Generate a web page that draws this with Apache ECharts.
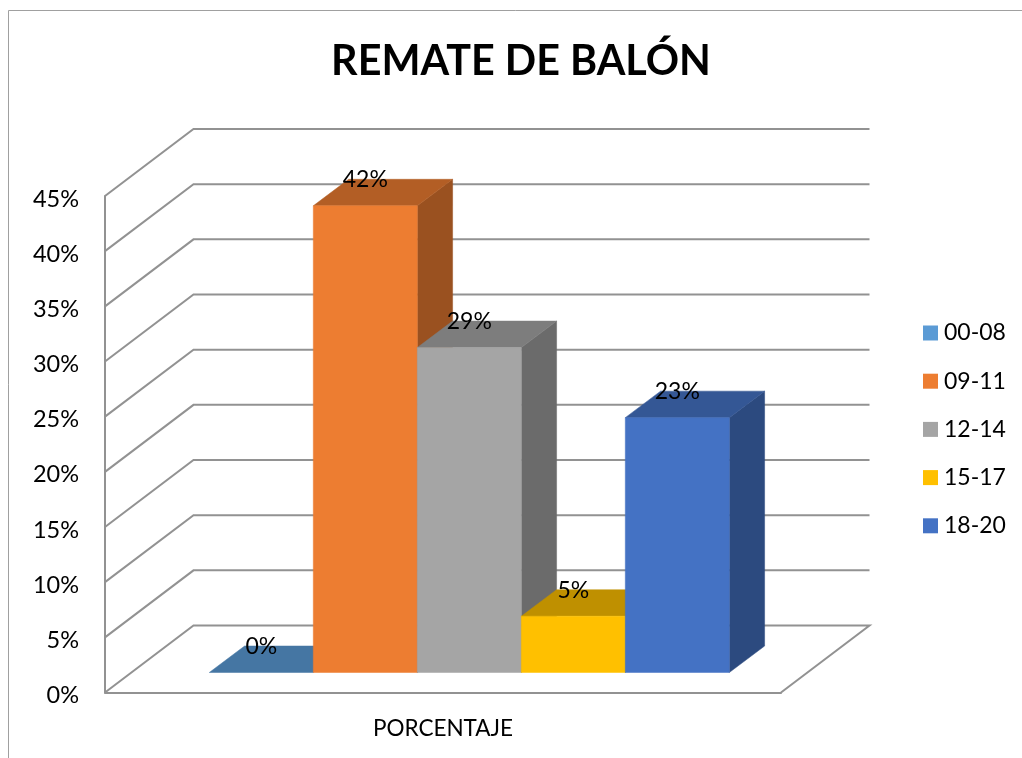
<!DOCTYPE html>
<html><head><meta charset="utf-8">
<style>html,body{margin:0;padding:0;background:#fff}#c{width:1022px;height:758px}</style>
<script src="https://cdn.jsdelivr.net/npm/echarts@6/dist/echarts.min.js"></script>
</head><body><div id="c"></div>
<script>
const titleText = 'REMATE DE BALÓN';
const categories = ['PORCENTAJE'];
const seriesNames = ['00-08', '09-11', '12-14', '15-17', '18-20'];
const seriesValues = [0, 42.3, 29.45, 5.1, 23.1];
const yTicks = [0, 5, 10, 15, 20, 25, 30, 35, 40, 45];
const frontColors = ['#5b9bd5', '#ed7d31', '#a5a5a5', '#ffc000', '#4472c4'];
const topColors = ['#4576a3', '#b35e25', '#7d7d7d', '#bf9000', '#345795'];
const sideColors = ['#3b6489', '#9a5120', '#6b6b6b', '#a67c00', '#2c4a7f'];

const FONT = 'Lato, "Open Sans", sans-serif';
const WALL_DX = 88.5, WALL_DY = -67;
const BAR_SHIFT_X = 26.3, BAR_SHIFT_Y = -20;
const BAR_DX = 35.3, BAR_DY = -26.5;
const BAR_SLOTS = 6.5;
const LINE = '#929292';

function wallRender(params, api) {
  const cs = params.coordSys;
  const v = api.value(1);
  const y = api.coord([0, v])[1];
  const pts = [[cs.x, y], [cs.x + WALL_DX, y + WALL_DY], [cs.x + cs.width + WALL_DX, y + WALL_DY]];
  if (v === 0) pts.push([cs.x + cs.width, y]);
  return {
    type: 'polyline', silent: true,
    shape: { points: pts },
    style: { stroke: LINE, lineWidth: 2, fill: null }
  };
}

function barRender(i) {
  return function (params, api) {
    const base = api.coord([0, 0]);
    const top = api.coord([0, api.value(1)]);
    const w = api.size([1, 0])[0] / BAR_SLOTS;
    const x0 = base[0] + BAR_SHIFT_X + (i - seriesNames.length / 2) * w;
    const x1 = x0 + w;
    const yb = base[1] + BAR_SHIFT_Y;
    const yt = top[1] + BAR_SHIFT_Y;
    const poly = (pts, fill) => ({
      type: 'polygon', silent: true, shape: { points: pts },
      style: { fill: fill, stroke: fill, lineWidth: 0.5 }
    });
    const children = [];
    if (yb - yt > 0.5) {
      children.push(poly([[x1, yt], [x1 + BAR_DX, yt + BAR_DY], [x1 + BAR_DX, yb + BAR_DY], [x1, yb]], sideColors[i]));
    }
    children.push(poly([[x0, yt], [x1, yt], [x1 + BAR_DX, yt + BAR_DY], [x0 + BAR_DX, yt + BAR_DY]], topColors[i]));
    if (yb - yt > 0.5) {
      children.push(poly([[x0, yt], [x1, yt], [x1, yb], [x0, yb]], frontColors[i]));
    }
    children.push({
      type: 'text', silent: true,
      style: {
        x: (x0 + x1) / 2, y: yt - 26,
        text: Math.round(api.value(1)) + '%',
        align: 'center', verticalAlign: 'middle',
        font: '23px ' + FONT, fill: '#000'
      }
    });
    return { type: 'group', children: children };
  };
}

const chart = echarts.init(document.getElementById('c'), null, { renderer: 'canvas' });
chart.setOption({
  animation: false,
  backgroundColor: '#fff',
  title: {
    text: titleText, left: 516, top: 36, textAlign: 'center',
    textStyle: { fontFamily: FONT, fontSize: 41.3, fontWeight: 'bold', color: '#000' }
  },
  legend: {
    orient: 'vertical', left: 918, top: 316.5,
    data: seriesNames, icon: 'rect', itemWidth: 15, itemHeight: 15, itemGap: 25.2,
    selectedMode: false,
    textStyle: { fontFamily: FONT, fontSize: 23, color: '#000', lineHeight: 15, padding: [0, 0, 0, 1] }
  },
  grid: { left: 105, top: 196, width: 676, height: 496.5, containLabel: false },
  xAxis: {
    type: 'category', data: categories,
    axisLine: { lineStyle: { color: LINE, width: 2 } },
    axisTick: { show: false },
    axisLabel: { fontFamily: FONT, fontSize: 22.5, color: '#000', margin: 25 }
  },
  yAxis: {
    type: 'value', min: 0, max: 45, interval: 5,
    axisLine: { show: true, lineStyle: { color: LINE, width: 2 } },
    axisTick: { show: false },
    splitLine: { show: false },
    axisLabel: { fontFamily: FONT, fontSize: 23.5, color: '#000', margin: 26, verticalAlign: 'top', lineHeight: 6, formatter: '{value}%' }
  },
  graphic: [{
    type: 'rect', silent: true, z: -1,
    shape: { x: 8.5, y: 10.5, width: 1100, height: 900 },
    style: { fill: null, stroke: '#a0a0a0', lineWidth: 1 }
  }],
  series: [{
    type: 'custom', name: 'walls', coordinateSystem: 'cartesian2d', clip: false, silent: true,
    renderItem: wallRender, encode: { x: 0, y: 1 },
    data: yTicks.map(t => [0, t])
  }].concat(seriesNames.map((name, i) => ({
    type: 'custom', name: name, coordinateSystem: 'cartesian2d', clip: false, silent: true,
    itemStyle: { color: frontColors[i] },
    renderItem: barRender(i), encode: { x: 0, y: 1 },
    data: [[0, seriesValues[i]]]
  })))
});
</script></body></html>
